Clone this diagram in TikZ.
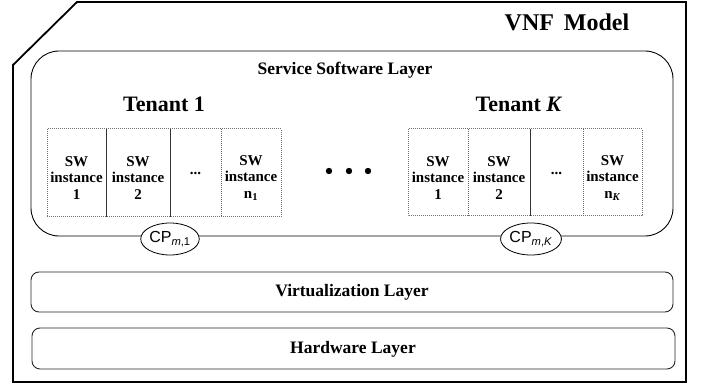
\documentclass[tikz,border=0pt]{standalone}
\usepackage{fontspec}
\usetikzlibrary{shapes.geometric}
\setmainfont{Liberation Serif}
\newfontfamily\cpfont{Liberation Sans}
\begin{document}
\begin{tikzpicture}[x=1pt,y=-1pt,
  layerbox/.style={draw=black!85, line width=0.9pt, rounded corners=8pt},
  swtext/.style={align=center, font=\fontsize{15}{16.5}\selectfont\bfseries, inner sep=0pt},
  grpbox/.style={draw=black!55, densely dotted, line width=1pt},
  soliddiv/.style={draw=black!80, line width=0.9pt},
  dotdiv/.style={draw=black!60, densely dotted, line width=1pt},
  cpell/.style={draw=black, fill=white, ellipse, minimum width=47pt, minimum height=32pt, inner sep=0pt, line width=0.8pt, font=\cpfont\fontsize{16}{16}\selectfont},
  ttl/.style={font=\fontsize{17.5}{17.5}\selectfont\bfseries, inner sep=0pt},
  tenant/.style={font=\fontsize{22}{22}\selectfont\bfseries, inner sep=0pt}
]
\useasboundingbox (0,0) rectangle (702,385);
% outer frame
\draw[line width=1.8pt] (13,65) -- (77,2) -- (686,2) -- (686,382) -- (13,382) -- cycle;
\node[font=\fontsize{24}{24}\selectfont\bfseries, inner sep=0pt] (vnf) at (567,22) {VNF\, Model};
% service layer
\draw[line width=0.9pt, rounded corners=28pt] (31,51) rectangle (673,236);
\node[ttl] (ssl) at (345,70) {Service Software Layer};
\node[tenant] (t1) at (164,104) {Tenant 1};
\node[tenant] (tk) at (519,104) {Tenant \textit{K}};
% tenant 1 boxes
\draw[grpbox] (47,129) rectangle (281,217);
\draw[soliddiv] (106,129) -- (106,217);
\draw[soliddiv] (170,129) -- (170,217);
\draw[dotdiv] (221,129) -- (221,217);
\node[swtext] (a1) at (76.5,178) {SW\\instance\\1};
\node[swtext] (a2) at (138,178) {SW\\instance\\2};
\node[swtext] (a3) at (195.5,173) {...};
\node[swtext] (a4) at (251,178) {SW\\instance\\n\textsubscript{1}};
% tenant K boxes
\draw[grpbox] (408,129) rectangle (642,216);
\draw[dotdiv] (468,129) -- (468,216);
\draw[soliddiv] (530,129) -- (530,216);
\draw[dotdiv] (583,129) -- (583,216);
\node[swtext] (b1) at (438,178) {SW\\instance\\1};
\node[swtext] (b2) at (499,178) {SW\\instance\\2};
\node[swtext] (b3) at (556.5,173) {...};
\node[swtext] (b4) at (612.5,178) {SW\\instance\\n\textsubscript{\textit{K}}};
% dots
\fill (329,171) circle (3.2pt) (349,171) circle (3.2pt) (368,171) circle (3.2pt);
% CP ellipses
\node[cpell] (cp1) at (170,239) {CP\textsubscript{\textit{m},1}};
\node[cpell, minimum width=49pt] (cpk) at (531,239) {CP\textsubscript{\textit{m},\textit{K}}};
% virtualization & hardware
\draw[layerbox] (31,272) rectangle (673,312);
\node[ttl] (virt) at (352,292) {Virtualization Layer};
\draw[layerbox] (32,328) rectangle (675,369);
\node[ttl] (hw) at (353,349) {Hardware Layer};
\end{tikzpicture}
\end{document}
